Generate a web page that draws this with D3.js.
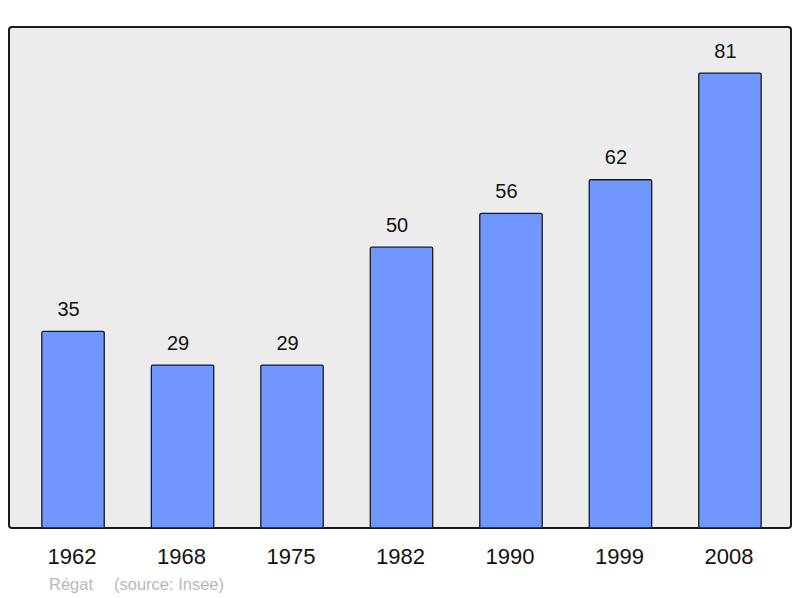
<!DOCTYPE html>
<html><head><meta charset="utf-8">
<script src="https://cdn.jsdelivr.net/npm/d3@7"></script>
<style>body{margin:0;background:#fff}svg{display:block}</style>
</head><body>
<script>
const years = ["1962","1968","1975","1982","1990","1999","2008"];
const population = [35,29,29,50,56,62,81];
const W = 800, H = 598;
const frame = {x0: 9, x1: 791, y0: 27, y1: 528};
const FONT = "Liberation Sans, Arial, sans-serif";
const svg = d3.select("body").append("svg").attr("width", W).attr("height", H);
svg.append("rect").attr("x", frame.x0).attr("y", frame.y0)
  .attr("width", frame.x1 - frame.x0).attr("height", frame.y1 - frame.y0)
  .attr("rx", 3).attr("fill", "#ececec").attr("stroke", "#1a1a1a").attr("stroke-width", 2);
const x = d3.scaleBand().domain(years).range([9, 794]).paddingInner(0.43).paddingOuter(0.3);
const y = d3.scaleLinear().domain([0, 89.2]).range([frame.y1, frame.y0]);
const g = svg.append("g");
g.selectAll("rect.bar").data(years).join("rect").attr("class","bar")
  .attr("x", d => x(d)).attr("width", x.bandwidth())
  .attr("y", (d,i) => y(population[i])).attr("height", (d,i) => y(0) - y(population[i]))
  .attr("rx", 1.5)
  .attr("fill", "#7096ff").attr("stroke", "#1a1a1a").attr("stroke-width", 1.3);
g.selectAll("text.val").data(years).join("text").attr("class","val")
  .attr("x", d => x(d) + x.bandwidth()/2 - 4.5).attr("y", (d,i) => y(population[i]) - 15.5)
  .attr("text-anchor","middle").attr("font-family", FONT)
  .attr("font-size", 20).attr("fill","#111").text((d,i) => population[i]);
const xAxis = d3.axisBottom(x).tickSize(0).tickPadding(0);
const ax = svg.append("g").attr("transform", `translate(-1,${frame.y1})`).call(xAxis);
ax.select(".domain").remove();
ax.selectAll("text").attr("font-family", FONT)
  .attr("font-size", 22).attr("fill","#111").attr("dy", null).attr("y", 36);
svg.append("text").attr("x", 49).attr("y", 590)
  .attr("font-family", FONT).attr("font-size", 16.5).attr("fill","#b8b8b8").text("Régat");
svg.append("text").attr("x", 114).attr("y", 590)
  .attr("font-family", FONT).attr("font-size", 16.5).attr("fill","#b8b8b8").text("(source: Insee)");
</script>
</body></html>
